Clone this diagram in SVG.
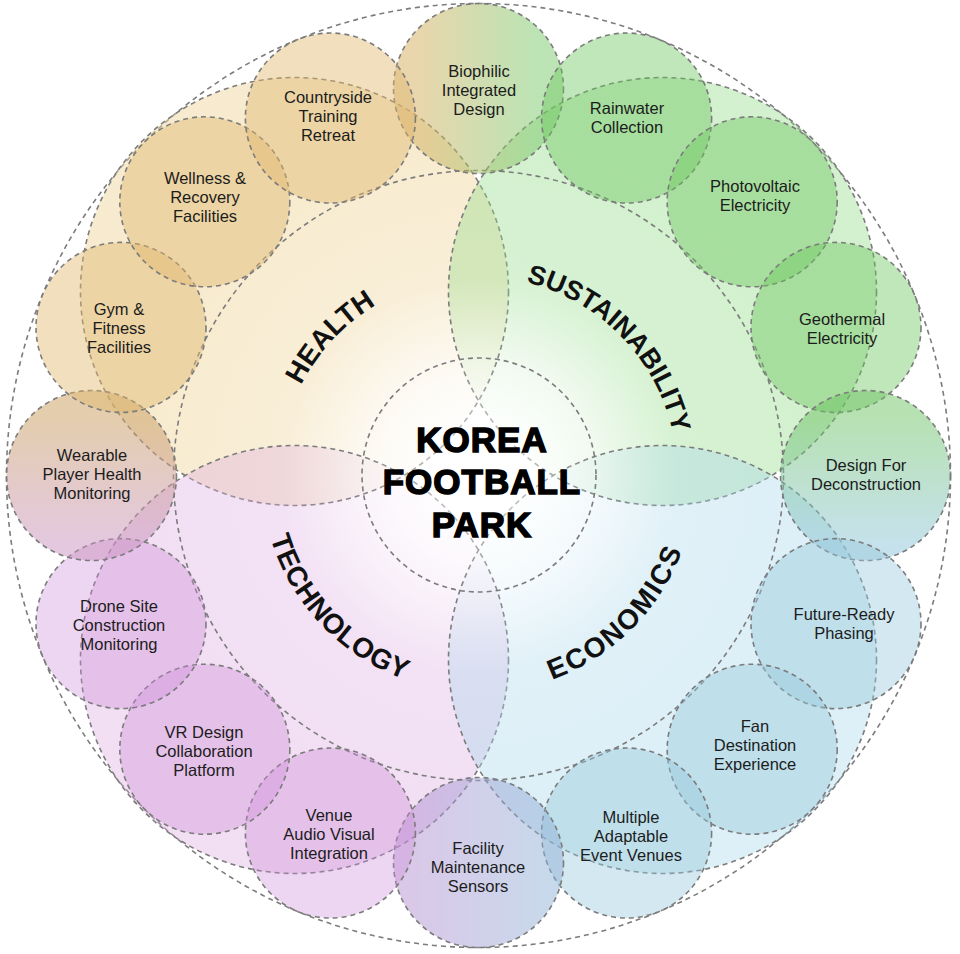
<svg xmlns="http://www.w3.org/2000/svg" width="960" height="954" viewBox="0 0 960 954">
  <defs>
    <style>
      .dash { fill: none; stroke: #7c7c7c; stroke-width: 1.6; stroke-dasharray: 5 4; }
      .lbl { font-family: "Liberation Sans", Arial, sans-serif; font-size: 16.5px; fill: #1c1c1c; text-anchor: middle; }
      .quad { font-family: "Liberation Sans", Arial, sans-serif; font-size: 28px; font-weight: bold; fill: #111111; text-anchor: middle; }
      .title { font-family: "Liberation Sans", Arial, sans-serif; font-size: 35px; font-weight: bold; fill: #000000; stroke: #000000; stroke-width: 1.5; letter-spacing: 1px; text-anchor: middle; }
      .hs { fill-opacity: 0.45; }
      .ss { fill-opacity: 0.43; }
      .ts { fill-opacity: 0.36; }
      .es { fill-opacity: 0.42; }
    </style>
    <radialGradient id="gH" gradientUnits="userSpaceOnUse" cx="478.5" cy="475.5" r="330">
      <stop offset="0" stop-color="rgb(240,215,160)" stop-opacity="0"/>
      <stop offset="0.35" stop-color="rgb(240,215,160)" stop-opacity="0.15"/>
      <stop offset="0.6" stop-color="rgb(240,215,160)" stop-opacity="0.42"/>
      <stop offset="1" stop-color="rgb(240,215,160)" stop-opacity="0.5"/>
    </radialGradient>
    <radialGradient id="gS" gradientUnits="userSpaceOnUse" cx="478.5" cy="475.5" r="330">
      <stop offset="0" stop-color="rgb(150,220,140)" stop-opacity="0"/>
      <stop offset="0.35" stop-color="rgb(150,220,140)" stop-opacity="0.13"/>
      <stop offset="0.6" stop-color="rgb(150,220,140)" stop-opacity="0.38"/>
      <stop offset="1" stop-color="rgb(150,220,140)" stop-opacity="0.42"/>
    </radialGradient>
    <radialGradient id="gT" gradientUnits="userSpaceOnUse" cx="478.5" cy="475.5" r="330">
      <stop offset="0" stop-color="rgb(220,170,225)" stop-opacity="0"/>
      <stop offset="0.35" stop-color="rgb(220,170,225)" stop-opacity="0.13"/>
      <stop offset="0.6" stop-color="rgb(220,170,225)" stop-opacity="0.34"/>
      <stop offset="1" stop-color="rgb(220,170,225)" stop-opacity="0.38"/>
    </radialGradient>
    <radialGradient id="gE" gradientUnits="userSpaceOnUse" cx="478.5" cy="475.5" r="330">
      <stop offset="0" stop-color="rgb(170,215,235)" stop-opacity="0"/>
      <stop offset="0.35" stop-color="rgb(170,215,235)" stop-opacity="0.13"/>
      <stop offset="0.6" stop-color="rgb(170,215,235)" stop-opacity="0.36"/>
      <stop offset="1" stop-color="rgb(170,215,235)" stop-opacity="0.4"/>
    </radialGradient>
    <radialGradient id="gC" cx="0.5" cy="0.5" r="0.5">
      <stop offset="0" stop-color="#ffffff" stop-opacity="0.8"/>
      <stop offset="0.55" stop-color="#ffffff" stop-opacity="0.4"/>
      <stop offset="1" stop-color="#ffffff" stop-opacity="0"/>
    </radialGradient>
    <linearGradient id="gBio" x1="0" y1="0" x2="1" y2="0">
      <stop offset="0.15" stop-color="rgb(215,180,105)" stop-opacity="0.55"/>
      <stop offset="0.85" stop-color="rgb(120,200,105)" stop-opacity="0.5"/>
    </linearGradient>
    <linearGradient id="gDec" x1="0" y1="0" x2="0" y2="1">
      <stop offset="0.15" stop-color="rgb(110,195,100)" stop-opacity="0.5"/>
      <stop offset="0.9" stop-color="rgb(140,195,215)" stop-opacity="0.5"/>
    </linearGradient>
    <linearGradient id="gFac" x1="0" y1="0" x2="1" y2="0">
      <stop offset="0.1" stop-color="rgb(180,145,210)" stop-opacity="0.5"/>
      <stop offset="0.9" stop-color="rgb(145,178,215)" stop-opacity="0.5"/>
    </linearGradient>
    <linearGradient id="gWear" x1="0" y1="0" x2="0" y2="1">
      <stop offset="0.15" stop-color="rgb(205,165,105)" stop-opacity="0.55"/>
      <stop offset="0.9" stop-color="rgb(200,145,190)" stop-opacity="0.5"/>
    </linearGradient>
    <path id="pH" d="M 288.2 533.7 A 199 199 0 0 1 523.3 281.6"/>
    <path id="pS" d="M 429.5 282.6 A 199 199 0 0 1 670.0 529.5"/>
    <path id="pE" d="M 422.3 685.1 A 217 217 0 0 0 688.1 419.3"/>
    <path id="pT" d="M 270.5 413.5 A 217 217 0 0 0 528.8 686.6"/>
  </defs>

  <rect width="960" height="954" fill="#ffffff"/>

  <g id="outer-ring">
    <circle class="dash" cx="478.5" cy="475.5" r="472"/>
  </g>

  <g id="q-health">
    <circle cx="294.5" cy="291.5" r="214" class="dash" style="fill:url(#gH)"/>
  </g>
  <g id="q-sustainability">
    <circle cx="662.5" cy="291.5" r="214" class="dash" style="fill:url(#gS)"/>
  </g>
  <g id="q-technology">
    <circle cx="294.5" cy="659.5" r="214" class="dash" style="fill:url(#gT)"/>
  </g>
  <g id="q-economics">
    <circle cx="662.5" cy="659.5" r="214" class="dash" style="fill:url(#gE)"/>
  </g>

  <g id="middle-ring">
    <circle class="dash" cx="478.5" cy="475.5" r="305"/>
  </g>

  <g id="n-biophilic">
    <circle cx="478.5" cy="88.5" r="85" class="dash" style="fill:url(#gBio)"/>
    <text class="lbl"><tspan x="479" y="77">Biophilic</tspan><tspan x="479" y="96">Integrated</tspan><tspan x="479" y="115">Design</tspan></text>
  </g>
  <g id="n-rainwater">
    <circle cx="626.6" cy="118" r="85" class="dash ss" style="fill:rgb(110,200,95)"/>
    <text class="lbl"><tspan x="627" y="114">Rainwater</tspan><tspan x="627" y="133">Collection</tspan></text>
  </g>
  <g id="n-photovoltaic">
    <circle cx="752.2" cy="201.8" r="85" class="dash ss" style="fill:rgb(110,200,95)"/>
    <text class="lbl"><tspan x="755" y="192">Photovoltaic</tspan><tspan x="755" y="211">Electricity</tspan></text>
  </g>
  <g id="n-geothermal">
    <circle cx="836" cy="327.4" r="85" class="dash ss" style="fill:rgb(110,200,95)"/>
    <text class="lbl"><tspan x="842" y="325">Geothermal</tspan><tspan x="842" y="344">Electricity</tspan></text>
  </g>
  <g id="n-deconstruction">
    <circle cx="865.5" cy="475.5" r="85" class="dash" style="fill:url(#gDec)"/>
    <text class="lbl"><tspan x="866" y="471">Design For</tspan><tspan x="866" y="490">Deconstruction</tspan></text>
  </g>
  <g id="n-future-ready">
    <circle cx="836" cy="623.6" r="85" class="dash es" style="fill:rgb(150,200,220)"/>
    <text class="lbl"><tspan x="844" y="620">Future-Ready</tspan><tspan x="844" y="639">Phasing</tspan></text>
  </g>
  <g id="n-fan-destination">
    <circle cx="752.2" cy="749.2" r="85" class="dash es" style="fill:rgb(150,200,220)"/>
    <text class="lbl"><tspan x="755" y="732">Fan</tspan><tspan x="755" y="751">Destination</tspan><tspan x="755" y="770">Experience</tspan></text>
  </g>
  <g id="n-multiple-venues">
    <circle cx="626.6" cy="833" r="85" class="dash es" style="fill:rgb(150,200,220)"/>
    <text class="lbl"><tspan x="631" y="823">Multiple</tspan><tspan x="631" y="842">Adaptable</tspan><tspan x="631" y="861">Event Venues</tspan></text>
  </g>
  <g id="n-facility-sensors">
    <circle cx="478.5" cy="862.5" r="85" class="dash" style="fill:url(#gFac)"/>
    <text class="lbl"><tspan x="478" y="854">Facility</tspan><tspan x="478" y="873">Maintenance</tspan><tspan x="478" y="892">Sensors</tspan></text>
  </g>
  <g id="n-venue-av">
    <circle cx="330.4" cy="833" r="85" class="dash ts" style="fill:rgb(205,140,215)"/>
    <text class="lbl"><tspan x="329" y="821">Venue</tspan><tspan x="329" y="840">Audio Visual</tspan><tspan x="329" y="859">Integration</tspan></text>
  </g>
  <g id="n-vr-design">
    <circle cx="204.8" cy="749.2" r="85" class="dash ts" style="fill:rgb(205,140,215)"/>
    <text class="lbl"><tspan x="204" y="738">VR Design</tspan><tspan x="204" y="757">Collaboration</tspan><tspan x="204" y="776">Platform</tspan></text>
  </g>
  <g id="n-drone">
    <circle cx="121" cy="623.6" r="85" class="dash ts" style="fill:rgb(205,140,215)"/>
    <text class="lbl"><tspan x="119" y="612">Drone Site</tspan><tspan x="119" y="631">Construction</tspan><tspan x="119" y="650">Monitoring</tspan></text>
  </g>
  <g id="n-wearable">
    <circle cx="91.5" cy="475.5" r="85" class="dash" style="fill:url(#gWear)"/>
    <text class="lbl"><tspan x="92" y="461">Wearable</tspan><tspan x="92" y="480">Player Health</tspan><tspan x="92" y="499">Monitoring</tspan></text>
  </g>
  <g id="n-gym">
    <circle cx="121" cy="327.4" r="85" class="dash hs" style="fill:rgb(225,185,110)"/>
    <text class="lbl"><tspan x="119" y="315">Gym &amp;</tspan><tspan x="119" y="334">Fitness</tspan><tspan x="119" y="353">Facilities</tspan></text>
  </g>
  <g id="n-wellness">
    <circle cx="204.8" cy="201.8" r="85" class="dash hs" style="fill:rgb(225,185,110)"/>
    <text class="lbl"><tspan x="205" y="184">Wellness &amp;</tspan><tspan x="205" y="203">Recovery</tspan><tspan x="205" y="222">Facilities</tspan></text>
  </g>
  <g id="n-countryside">
    <circle cx="330.4" cy="118" r="85" class="dash hs" style="fill:rgb(225,185,110)"/>
    <text class="lbl"><tspan x="328" y="103">Countryside</tspan><tspan x="328" y="122">Training</tspan><tspan x="328" y="141">Retreat</tspan></text>
  </g>

  <g id="center">
    <circle cx="479" cy="475" r="117" class="dash" style="fill:url(#gC)"/>
    <text class="title"><tspan x="482" y="452">KOREA</tspan><tspan x="482" y="494">FOOTBALL</tspan><tspan x="482" y="537">PARK</tspan></text>
  </g>

  <g id="quadrant-labels">
    <text class="quad"><textPath href="#pH" startOffset="50%">HEALTH</textPath></text>
    <text class="quad" style="font-size:27px"><textPath href="#pS" startOffset="50%">SUSTAINABILITY</textPath></text>
    <text class="quad" style="letter-spacing:0.5px"><textPath href="#pT" startOffset="50%">TECHNOLOGY</textPath></text>
    <text class="quad" style="letter-spacing:2px"><textPath href="#pE" startOffset="50%">ECONOMICS</textPath></text>
  </g>
</svg>
